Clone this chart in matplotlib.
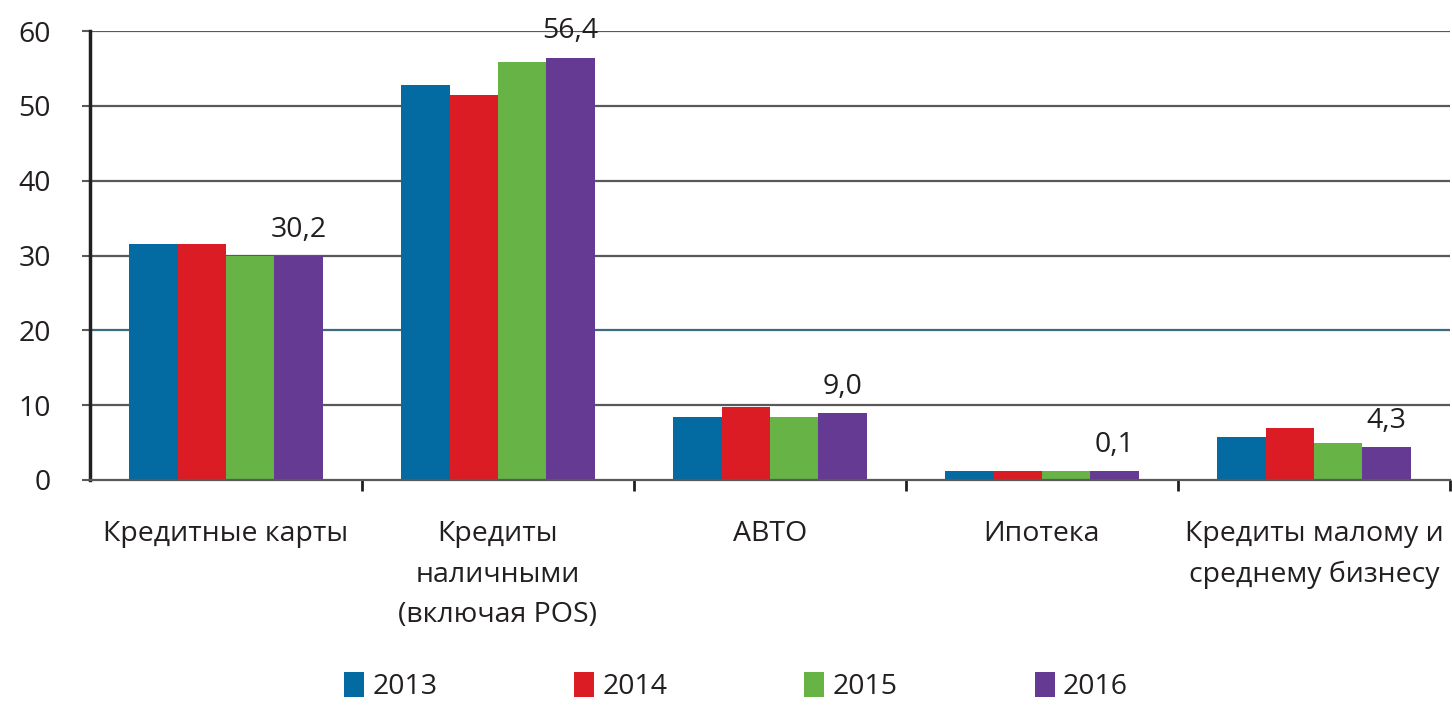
import numpy as np
import matplotlib
matplotlib.use("Agg")
import matplotlib.pyplot as plt

# --- данные ---
categories = ["Кредитные карты", "Кредиты\nналичными\n(включая POS)", "АВТО",
              "Ипотека", "Кредиты малому и\nсреднему бизнесу"]
years = ["2013", "2014", "2015", "2016"]
v2013 = [31.6, 52.8, 8.4, 1.2, 5.7]
v2014 = [31.6, 51.4, 9.7, 1.2, 7.0]
v2015 = [29.9, 55.9, 8.4, 1.2, 4.9]
v2016 = [29.9, 56.4, 8.9, 1.2, 4.4]
labels_2016 = ["30,2", "56,4", "9,0", "0,1", "4,3"]
yticks = [0, 10, 20, 30, 40, 50, 60]

colors = ["#036aa2", "#dc1c24", "#67b345", "#653a93"]
series = [v2013, v2014, v2015, v2016]

plt.rcParams['font.family'] = ['Open Sans', 'DejaVu Sans']
TXT = "#231f20"
FS = 20.5

fig = plt.figure(figsize=(14.52, 7.07), dpi=100)
ax = fig.add_axes([90 / 1452, 1 - 480 / 707, 1360 / 1452, 449 / 707])

x = np.arange(len(categories))
w = 0.178
for i, (vals, c) in enumerate(zip(series, colors)):
    ax.bar(x + (i - 1.5) * w, vals, width=w, color=c, label=years[i], zorder=3)

# подписи значений 2016
for xi, v, t in zip(x, v2016, labels_2016):
    ax.annotate(t, (xi + 1.5 * w, v), xytext=(0, 9), textcoords="offset points",
                ha="center", va="bottom", fontsize=FS, color=TXT)

ax.set_xlim(-0.5, len(categories) - 0.5)
ax.set_ylim(0, 60)
ax.set_yticks(yticks)
ax.set_yticklabels([str(t) for t in yticks], fontsize=FS, color=TXT)
ax.tick_params(axis="y", length=6, width=1.5, color="#595959", pad=22)

for t in yticks[1:]:
    ax.axhline(t, color="#3d6a80" if t == 20 else "#595959", lw=1.6, zorder=1)

# метки категорий и засечки между ними
ax.set_xticks(x)
ax.set_xticklabels(categories, fontsize=FS, color=TXT, linespacing=1.6, va="top")
ax.tick_params(axis="x", which="major", length=0, pad=29)
ax.set_xticks(np.arange(0.5, len(categories), 1.0), minor=True)
ax.tick_params(axis="x", which="minor", length=8, width=2, color="#231f20")

for s in ["top", "right"]:
    ax.spines[s].set_visible(False)
ax.spines["left"].set_linewidth(2.5)
ax.spines["left"].set_color("#231f20")
ax.spines["bottom"].set_linewidth(1.6)
ax.spines["bottom"].set_color("#595959")
ax.spines["bottom"].set_zorder(4)

leg = fig.legend(loc="lower center", bbox_to_anchor=(0.507, 0.008), ncol=4, frameon=False,
                 fontsize=FS, handlelength=0.7, handleheight=1.0, handletextpad=0.3,
                 columnspacing=4.8, borderaxespad=0.0, borderpad=0.0)
for t in leg.get_texts():
    t.set_color(TXT)

fig.savefig("out.png", dpi=100)
